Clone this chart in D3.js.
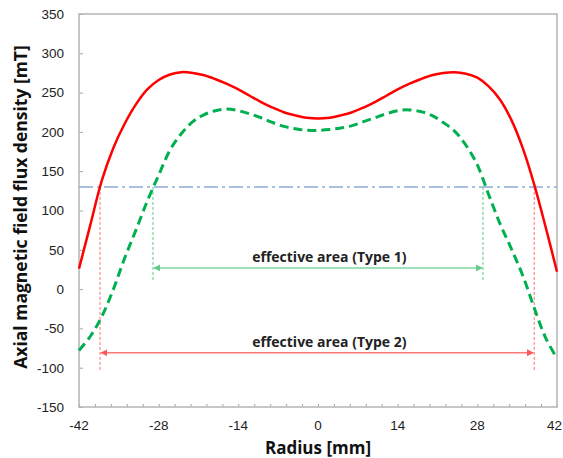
<!DOCTYPE html>
<html>
<head>
<meta charset="utf-8">
<script src="https://cdn.jsdelivr.net/npm/d3@7"></script>
<style>
	html, body { margin: 0; padding: 0; background: #fff; }
	svg { display: block; }
	.tick-label { font-family: 'Liberation Sans', Arial, sans-serif; font-size: 13.5px; fill: #222; }
	.title { font-family: 'Open Sans', Lato, sans-serif; font-weight: bold; fill: #111; }
	.note { font-family: 'Open Sans', Lato, sans-serif; font-weight: bold; font-size: 14px; fill: #222; }
</style>
</head>
<body>
<svg id="chart" width="563" height="458"></svg>
<script>
	// radius [mm]
	const radius = [-42, -40, -38, -36, -34, -32, -30, -28, -26, -24, -22, -20, -18, -16, -14, -12, -10, -8, -6, -4, -2,
		0, 2, 4, 6, 8, 10, 12, 14, 16, 18, 20, 22, 24, 26, 28, 30, 32, 34, 36, 38, 40, 42]
	// solid red curve [mT]
	const redFlux = [26, 82, 138, 179, 210, 235, 254, 266, 273, 276, 275, 272, 267, 261, 254, 246, 238, 231, 225, 221, 218,
		217, 218, 221, 225, 231, 238, 246, 254, 261, 267, 272, 275, 276, 274, 269, 258, 241, 215, 179, 133, 79, 22]
	// dashed green curve [mT]
	const greenFlux = [-78, -60, -35, -1, 39, 75, 112, 145, 177, 198, 213, 222, 227, 229, 227, 223, 218, 212, 207, 204, 202,
		202, 203, 205, 208, 213, 218, 223, 227, 228, 226, 221, 212, 201, 183, 158, 120, 83, 51, 17, -24, -62, -88]

	const threshold = 130
	const type1 = { label: 'effective area (Type 1)', from: -29, to: 29, arrowAt: 27, bottom: 10 }
	const type2 = { label: 'effective area (Type 2)', from: -38.3, to: 38, arrowAt: -81, bottom: -103 }

	const xTicks = [-42, -28, -14, 0, 14, 28, 42]
	const yTicks = [-150, -100, -50, 0, 50, 100, 150, 200, 250, 300, 350]

	const svg = d3.select('#chart')
	const W = 563, H = 458
	const m = { top: 14, right: 6, bottom: 51, left: 79 }

	const x = d3.scaleLinear().domain([-42, 42]).range([m.left, W - m.right])
	const y = d3.scaleLinear().domain([-150, 350]).range([H - m.bottom, m.top])

	const defs = svg.append('defs')
	const marker = (id, color) => {
		defs.append('marker')
			.attr('id', id)
			.attr('viewBox', '0 0 10 10')
			.attr('refX', 9).attr('refY', 5)
			.attr('markerWidth', 7).attr('markerHeight', 7)
			.attr('markerUnits', 'userSpaceOnUse')
			.attr('orient', 'auto-start-reverse')
			.append('path')
			.attr('d', 'M0,0 L10,5 L0,10 z')
			.attr('fill', color)
	}
	marker('arrG', '#62c987')
	marker('arrR', '#ff5a5a')

	// axes
	const gx = svg.append('g').attr('transform', `translate(0,${H - m.bottom})`)
	gx.call(d3.axisTop(x).tickValues(d3.range(-42, 42.01, 2.8)).tickSize(3).tickFormat(''))
	gx.select('.domain').remove()
	gx.selectAll('line').attr('stroke', '#a6a6a6')
	gx.selectAll('.tl').data(xTicks).enter().append('text')
		.attr('class', 'tick-label')
		.attr('x', (d, i) => i === xTicks.length - 1 ? W - 1 : x(d)).attr('y', 23)
		.attr('text-anchor', (d, i) => i === xTicks.length - 1 ? 'end' : 'middle')
		.text(d => d)

	const gy = svg.append('g').attr('transform', `translate(${m.left},0)`)
	gy.call(d3.axisRight(y).tickValues(yTicks).tickSize(4).tickFormat(''))
	gy.select('.domain').remove()
	gy.selectAll('line').attr('stroke', '#a6a6a6')
	gy.selectAll('.tl').data(yTicks).enter().append('text')
		.attr('class', 'tick-label')
		.attr('x', -15).attr('y', d => y(d)).attr('dy', '0.36em')
		.attr('text-anchor', 'end')
		.text(d => d)

	// frame
	svg.append('rect')
		.attr('x', m.left).attr('y', m.top)
		.attr('width', W - m.left - m.right).attr('height', H - m.top - m.bottom)
		.attr('fill', 'none').attr('stroke', '#b5b5b5').attr('stroke-width', 1.5)

	// threshold line
	svg.append('line')
		.attr('x1', x(-42)).attr('x2', x(42))
		.attr('y1', y(threshold)).attr('y2', y(threshold))
		.attr('stroke', '#8eaad6').attr('stroke-width', 1.5)
		.attr('stroke-dasharray', '14,4,3,4')

	// effective areas
	const area = (t, color, lineColor, markerId) => {
		const g = svg.append('g')
		;[t.from, t.to].forEach(r => {
			g.append('line')
				.attr('x1', x(r)).attr('x2', x(r))
				.attr('y1', y(threshold)).attr('y2', y(t.bottom))
				.attr('stroke', lineColor).attr('stroke-width', 1)
				.attr('stroke-dasharray', '3,2')
		})
		g.append('line')
			.attr('x1', x(t.from) + 1).attr('x2', x(t.to) - 1)
			.attr('y1', y(t.arrowAt)).attr('y2', y(t.arrowAt))
			.attr('stroke', color).attr('stroke-width', 1.5)
			.attr('marker-start', `url(#${markerId})`)
			.attr('marker-end', `url(#${markerId})`)
		g.append('text')
			.attr('class', 'note')
			.attr('x', x(2)).attr('y', y(t.arrowAt) - 6)
			.attr('text-anchor', 'middle')
			.text(t.label)
	}
	area(type1, '#7fd6a0', '#5cc983', 'arrG')
	area(type2, '#ff7878', '#ff6f6f', 'arrR')

	// curves
	const line = (vals) => d3.line()
		.x((_, i) => x(radius[i]))
		.y(d => y(d))
		.curve(d3.curveCatmullRom)(vals)

	svg.append('path')
		.attr('d', line(greenFlux))
		.attr('fill', 'none').attr('stroke', '#00b050').attr('stroke-width', 3)
		.attr('stroke-dasharray', '9,5')

	svg.append('path')
		.attr('d', line(redFlux))
		.attr('fill', 'none').attr('stroke', '#ff0000').attr('stroke-width', 2.5)

	// titles
	svg.append('text')
		.attr('class', 'title')
		.attr('x', (m.left + W - m.right) / 2).attr('y', 454)
		.attr('text-anchor', 'middle')
		.style('font-size', '17px')
		.text('Radius [mm]')

	svg.append('text')
		.attr('class', 'title')
		.attr('transform', 'translate(27,207) rotate(-90)')
		.attr('text-anchor', 'middle')
		.style('font-size', '17.5px')
		.text('Axial magnetic field flux density [mT]')
</script>
</body>
</html>
